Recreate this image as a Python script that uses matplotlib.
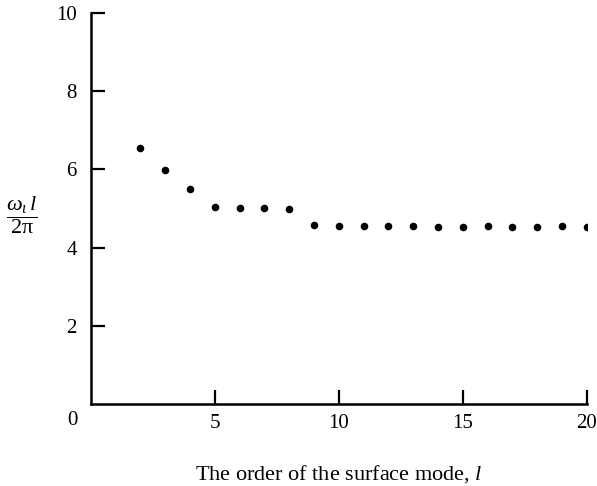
# dispersion of surface modes: omega_l * l / 2pi vs mode order l

import matplotlib.pyplot as plt

plt.rcParams['font.family'] = ['Liberation Serif', 'DejaVu Serif']
plt.rcParams['mathtext.fontset'] = 'custom'
plt.rcParams['mathtext.rm'] = 'Liberation Serif'
plt.rcParams['mathtext.it'] = 'Liberation Serif:italic'

# mode order l
order = [2, 3, 4, 5, 6, 7, 8, 9, 10, 11, 12, 13, 14, 15, 16, 17, 18, 19, 20]
# omega_l * l / 2pi
freq = [6.54, 5.99, 5.49, 5.04, 5.02, 5.00, 4.99, 4.58, 4.56, 4.54, 4.55,
        4.54, 4.53, 4.52, 4.54, 4.53, 4.53, 4.54, 4.53]

xticks = [5, 10, 15, 20]
yticks = [2, 4, 6, 8, 10]

fig = plt.figure(figsize=(5.97, 4.86), dpi=100)
ax = fig.add_axes([0.152, 0.169, 0.831, 0.804])

ax.scatter(order, freq, s=30, color='black', zorder=3, linewidths=0)

ax.set_xlim(0, 20)
ax.set_ylim(0, 10)
ax.set_xticks(xticks)
ax.set_yticks(yticks)
ax.set_xticklabels([str(t) for t in xticks])
ax.set_yticklabels([str(t) for t in yticks])

for side in ['top', 'right']:
    ax.spines[side].set_visible(False)
for side in ['left', 'bottom']:
    ax.spines[side].set_linewidth(1.8)

ax.tick_params(axis='both', direction='in', length=10, width=1.6, labelsize=15)
ax.tick_params(axis='y', pad=10)
ax.tick_params(axis='x', pad=7)

# single zero at the corner
ax.text(-0.75, -0.42, '0', fontsize=15, ha='center', va='center', clip_on=False)

# y label as a fraction
ax.text(-2.8, 4.82, r'$\dfrac{\omega_\iota\,l}{2\mathrm{\pi}}$', fontsize=16,
        ha='center', va='center', clip_on=False)

ax.set_xlabel(r'The order of the surface mode, $\mathit{l}$', fontsize=16, labelpad=22)

plt.savefig('out.png', dpi=100)
